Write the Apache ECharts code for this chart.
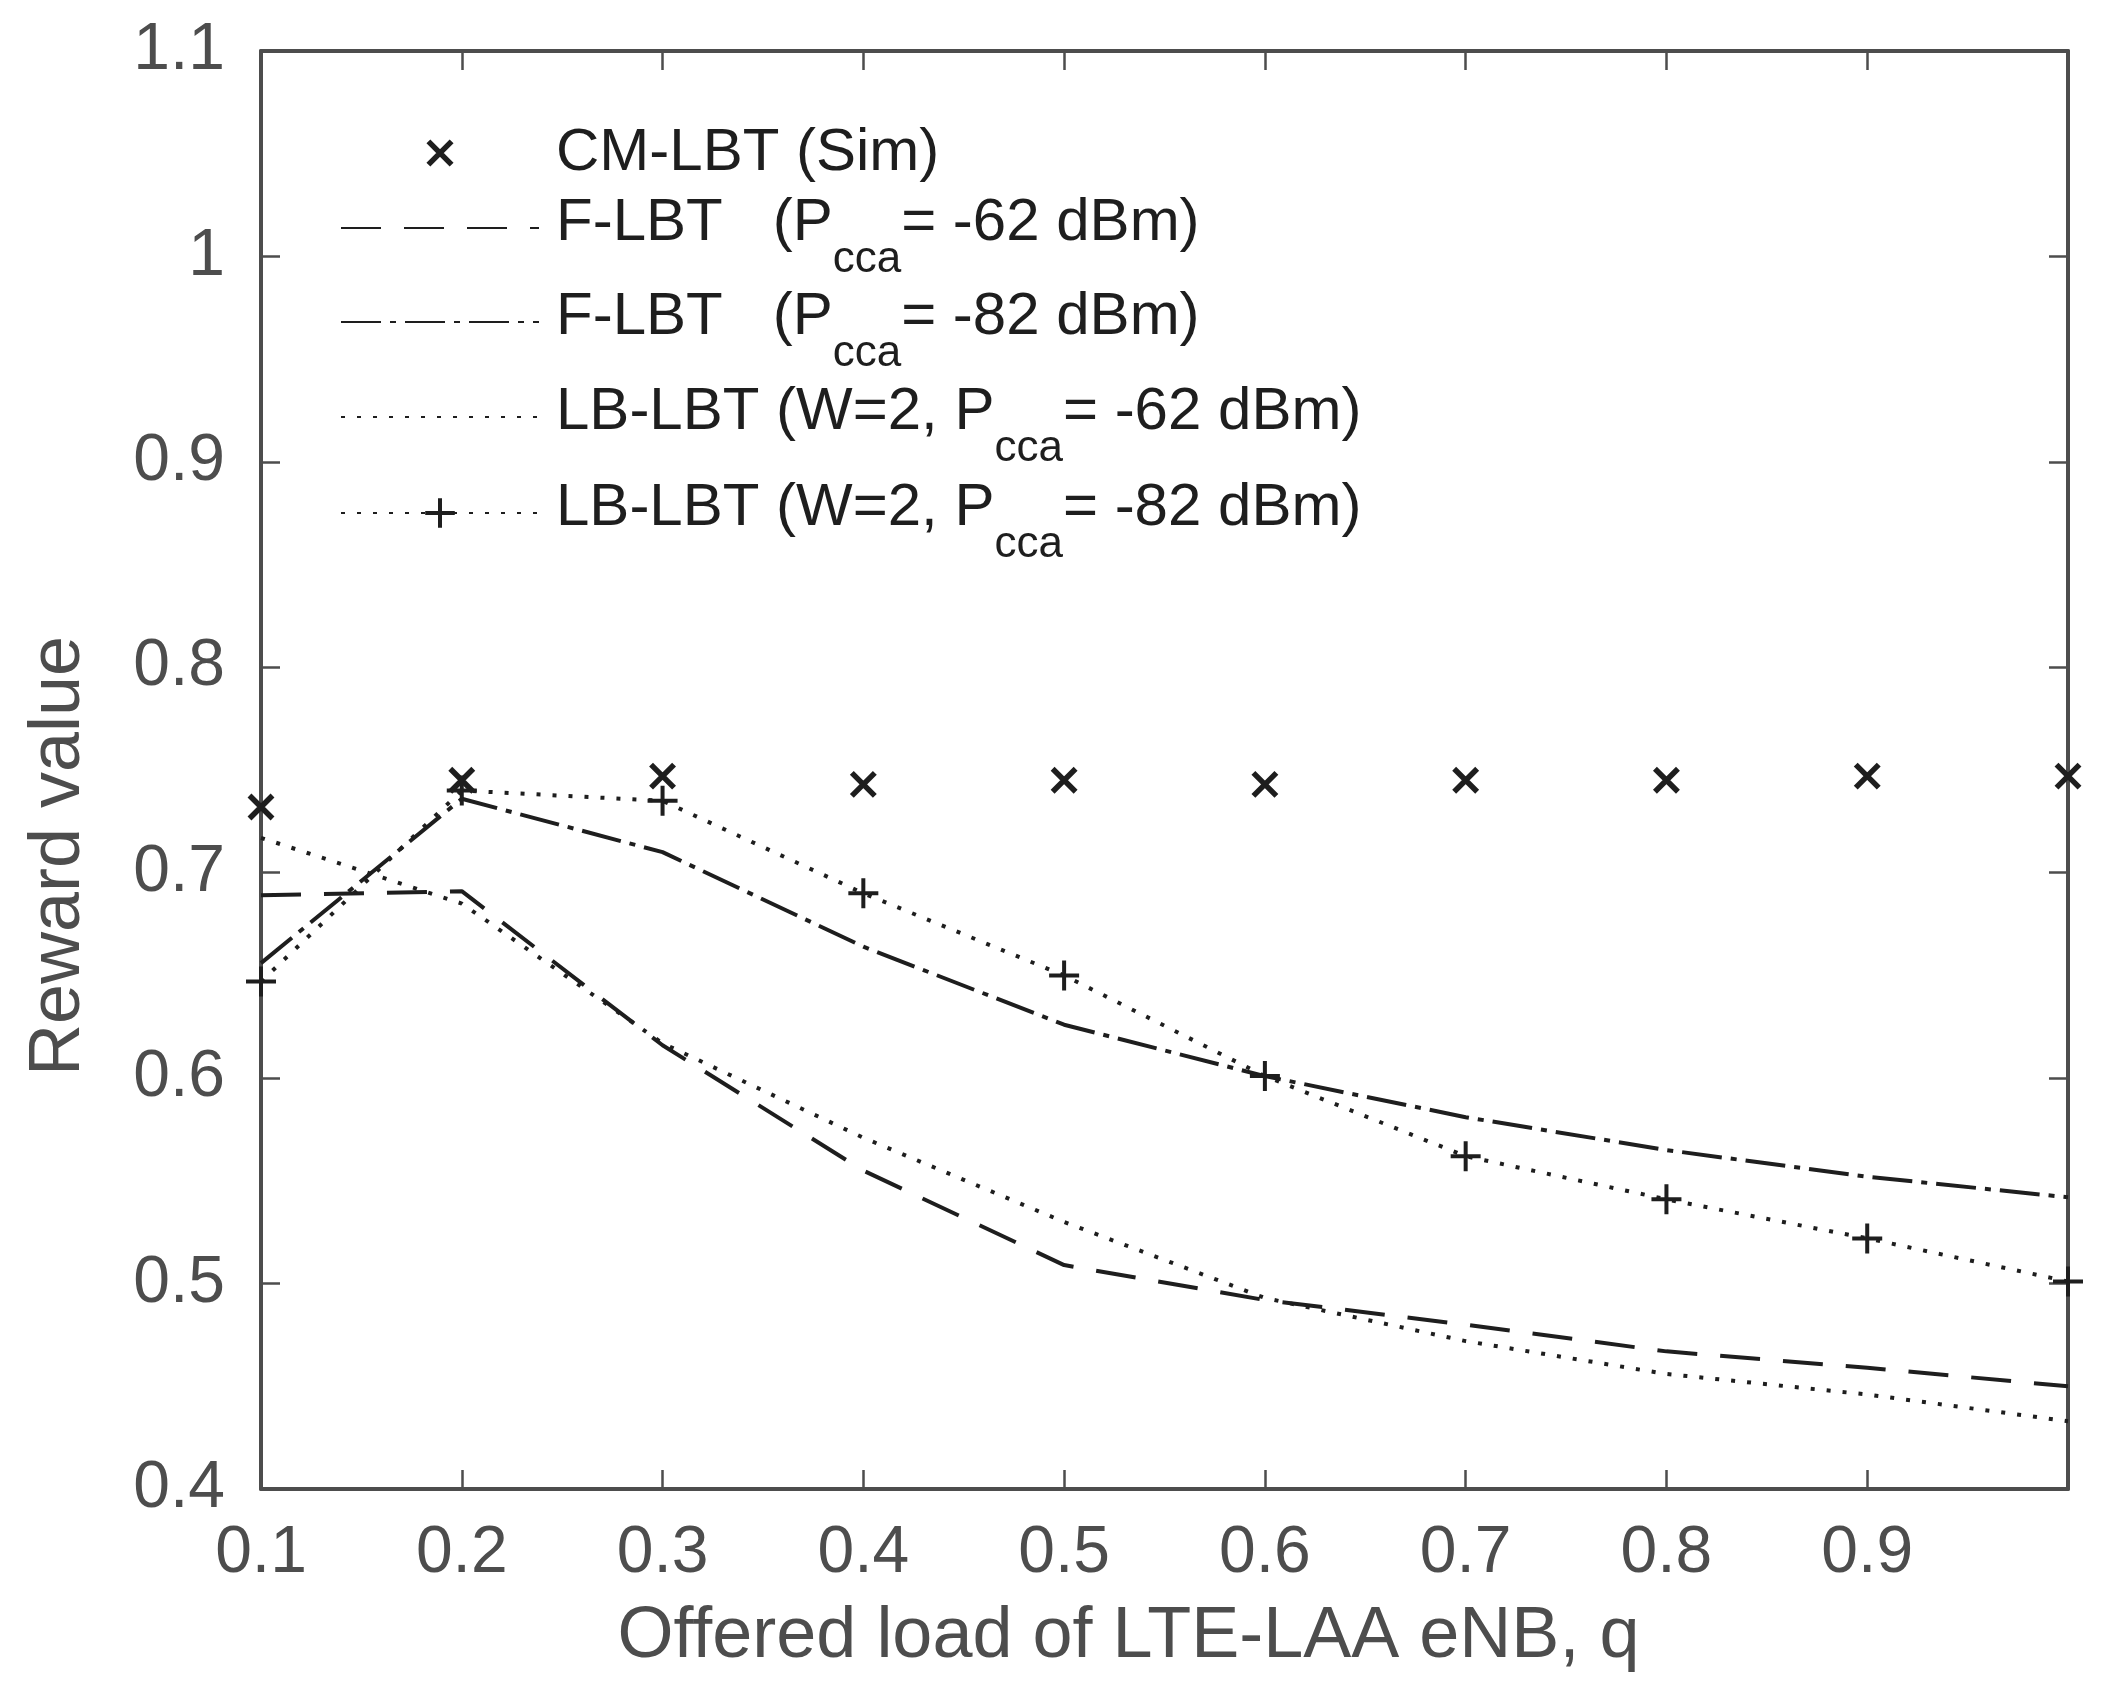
<!DOCTYPE html>
<html>
<head>
<meta charset="utf-8">
<script src="https://cdn.jsdelivr.net/npm/echarts@6/dist/echarts.min.js"></script>
<style>
  html, body { margin: 0; padding: 0; background: #fff; }
  #chart { width: 2101px; height: 1697px; }
</style>
</head>
<body>
<div id="chart"></div>
<script>
// offered load q
var loads = [0.1, 0.2, 0.3, 0.4, 0.5, 0.6, 0.7, 0.8, 0.9, 1.0];

// reward values
var cmLbtSim = [0.732, 0.745, 0.747, 0.743, 0.745, 0.743, 0.745, 0.745, 0.747, 0.747];
var fLbt62   = [0.689, 0.691, 0.616, 0.555, 0.509, 0.492, 0.480, 0.467, 0.459, 0.450];
var fLbt82   = [0.656, 0.736, 0.710, 0.664, 0.626, 0.601, 0.581, 0.565, 0.552, 0.542];
var lbLbt62  = [0.717, 0.685, 0.617, 0.571, 0.530, 0.493, 0.472, 0.456, 0.446, 0.433];
var lbLbt82  = [0.647, 0.740, 0.735, 0.690, 0.650, 0.601, 0.562, 0.541, 0.522, 0.501];

var xTickLabels = ['0.1', '0.2', '0.3', '0.4', '0.5', '0.6', '0.7', '0.8', '0.9', ''];
var yTickLabels = ['0.4', '0.5', '0.6', '0.7', '0.8', '0.9', '1', '1.1'];

var seriesNames = [
  'CM-LBT (Sim)',
  'F-LBT (Pcca = -62 dBm)',
  'F-LBT (Pcca = -82 dBm)',
  'LB-LBT (W=2, Pcca = -62 dBm)',
  'LB-LBT (W=2, Pcca = -82 dBm)'
];
var legendTexts = [
  '{a|CM-LBT (Sim)}',
  '{a|F-LBT   (P}{s|cca}{a|= -62 dBm)}',
  '{a|F-LBT   (P}{s|cca}{a|= -82 dBm)}',
  '{a|LB-LBT (W=2, P}{s|cca}{a|= -62 dBm)}',
  '{a|LB-LBT (W=2, P}{s|cca}{a|= -82 dBm)}'
];

function pairs(vals) {
  return loads.map(function (q, i) { return [q, vals[i]]; });
}

var ink = '#1e1e1e';
var axisGrey = '#4d4d4d';
var font = 'Liberation Sans, Arial, Helvetica, sans-serif';
var crossPath = 'path://M0,0L10,10M10,0L0,10';
var plusPath = 'path://M5,0L5,10M0,5L10,5';

// one legend block per entry so rows can sit where the figure has them
var legendTops = [123, 193, 287, 382, 478];
var legendIconH = [29, 20, 20, 20, 37];
var legendMarkW = [5.5, 0, 0, 0, 4];
var legends = seriesNames.map(function (name, i) {
  var hasSub = i > 0;
  return {
    data: [name],
    left: 340,
    top: legendTops[i],
    padding: 0,
    itemWidth: 198,
    itemHeight: legendIconH[i],
    selectedMode: false,
    itemStyle: legendMarkW[i] > 0
      ? { color: ink, borderColor: ink, borderWidth: legendMarkW[i] }
      : { opacity: 0, borderWidth: 0 },
    formatter: function () { return legendTexts[i]; },
    textStyle: {
      padding: [0, 0, 0, 12],
      rich: {
        a: { fontFamily: font, fontSize: 60, color: ink, verticalAlign: 'top', lineHeight: hasSub ? 70 : 60 },
        s: { fontFamily: font, fontSize: 44, color: ink, verticalAlign: 'top', lineHeight: 40, padding: [45, 0, 0, 0] }
      }
    }
  };
});

var baseAxis = {
  type: 'value',
  axisLine: { show: true, onZero: false, lineStyle: { color: axisGrey, width: 4 } },
  axisTick: { show: true, inside: true, length: 19, lineStyle: { color: axisGrey, width: 2.5 } },
  splitLine: { show: false }
};

var option = {
  backgroundColor: '#ffffff',
  animation: false,
  grid: { left: 261, right: 33, top: 51, bottom: 208, containLabel: false },
  legend: legends,
  xAxis: [
    Object.assign({}, baseAxis, {
      position: 'bottom', min: 0.1, max: 1.0, interval: 0.1,
      name: 'Offered load of LTE-LAA eNB, q',
      nameLocation: 'middle', nameGap: 112,
      nameTextStyle: { fontFamily: font, fontSize: 72, color: axisGrey, padding: [0, 72, 0, 0] },
      axisLabel: {
        margin: 32, fontFamily: font, fontSize: 66, color: axisGrey,
        formatter: function (v, idx) { return xTickLabels[idx] || ''; }
      }
    }),
    Object.assign({}, baseAxis, {
      position: 'top', min: 0.1, max: 1.0, interval: 0.1,
      axisLabel: { show: false }
    })
  ],
  yAxis: [
    Object.assign({}, baseAxis, {
      position: 'left', min: 0.4, max: 1.1, interval: 0.1,
      name: 'Reward value',
      nameLocation: 'middle', nameGap: 166,
      nameTextStyle: { fontFamily: font, fontSize: 72, color: axisGrey, padding: [0, 172, 0, 0] },
      axisLabel: {
        margin: 36, fontFamily: font, fontSize: 66, color: axisGrey,
        formatter: function (v, idx) { return yTickLabels[idx] || ''; }
      }
    }),
    Object.assign({}, baseAxis, {
      position: 'right', min: 0.4, max: 1.1, interval: 0.1,
      axisLabel: { show: false }
    })
  ],
  series: [
    {
      // markers only: the connecting line is kept invisible
      name: seriesNames[0], type: 'line', clip: false,
      data: pairs(cmLbtSim),
      symbol: crossPath, symbolSize: 23, showSymbol: true,
      itemStyle: { color: ink, borderColor: ink, borderWidth: 5.5 },
      lineStyle: { color: ink, width: 1, opacity: 0 }
    },
    {
      name: seriesNames[1], type: 'line', clip: false,
      data: pairs(fLbt62), symbol: 'none',
      itemStyle: { color: ink },
      lineStyle: { color: ink, width: 4, type: [40, 23] }
    },
    {
      name: seriesNames[2], type: 'line', clip: false,
      data: pairs(fLbt82), symbol: 'none',
      itemStyle: { color: ink },
      lineStyle: { color: ink, width: 4, type: [40, 9, 6, 9] }
    },
    {
      name: seriesNames[3], type: 'line', clip: false,
      data: pairs(lbLbt62), symbol: 'none',
      itemStyle: { color: ink },
      lineStyle: { color: ink, width: 4, type: [4, 12] }
    },
    {
      name: seriesNames[4], type: 'line', clip: false,
      data: pairs(lbLbt82),
      symbol: plusPath, symbolSize: 30, showSymbol: true,
      itemStyle: { color: ink, borderColor: ink, borderWidth: 4 },
      lineStyle: { color: ink, width: 4, type: [4, 12] }
    }
  ]
};

var chart = echarts.init(document.getElementById('chart'), null, { renderer: 'canvas' });
chart.setOption(option);
</script>
</body>
</html>
